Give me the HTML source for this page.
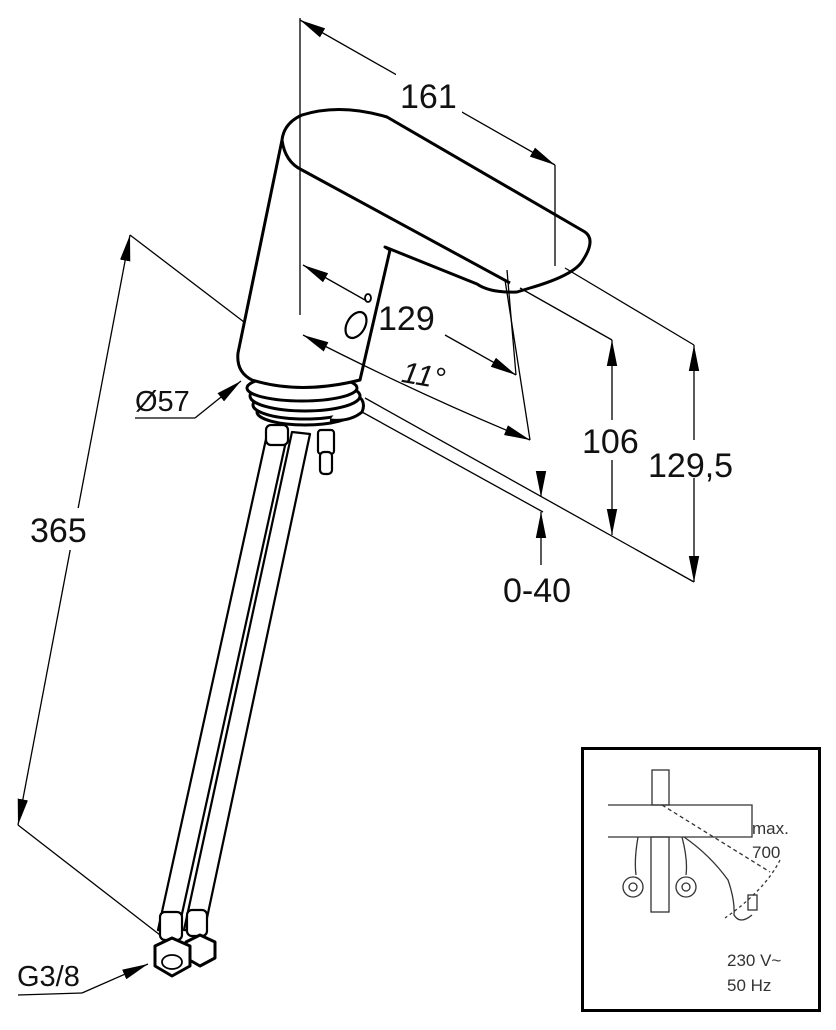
<!DOCTYPE html>
<html><head><meta charset="utf-8"><style>
html,body{margin:0;padding:0;background:#fff}
svg{display:block}
text{font-family:"Liberation Sans",sans-serif;fill:#111}
</style></head><body>
<svg width="836" height="1030" viewBox="0 0 836 1030" xmlns="http://www.w3.org/2000/svg">
<defs>
<marker id="b" viewBox="0 0 10 10" refX="10" refY="5" markerWidth="26" markerHeight="26" markerUnits="userSpaceOnUse" orient="auto-start-reverse"><path d="M0,3 L10,5 L0,7Z" fill="#000"/></marker>
</defs>
<g fill="#fff" stroke="#000" stroke-width="3" stroke-linejoin="round">
<ellipse cx="305" cy="412" rx="48" ry="13"/>
<ellipse cx="305" cy="405" rx="52" ry="14"/>
<path d="M350,392 Q368,398 362,412 Q350,422 330,420" />
<ellipse cx="305" cy="396" rx="55" ry="15"/>
<ellipse cx="302" cy="388" rx="55" ry="13"/>
<path d="M268,430 L158,930 L178,932 L288,432Z" stroke-width="2.2"/>
<path d="M292,432 L184,930 L204,932 L310,434Z" stroke-width="2.2"/>
<rect x="266" y="425" width="22" height="20" rx="5" stroke-width="2.2"/>
<rect x="318" y="430" width="16" height="24" rx="3" stroke-width="2.2"/>
<rect x="320" y="452" width="12" height="22" rx="4" stroke-width="2.2"/>
<rect x="160" y="912" width="22" height="28" rx="5" stroke-width="2.2"/>
<rect x="187" y="910" width="20" height="26" rx="5" stroke-width="2.2"/>
<polygon points="200,935 215,942 215,958 200,966 186,958 186,942"/>
<polygon points="172,938 190,946 190,966 172,976 155,966 155,946"/>
<ellipse cx="172" cy="962" rx="10" ry="7" stroke-width="1.8"/>
<path d="M282,140 L238,353 Q236,372 252,380 Q300,395 360,380 L390,250 L385,247 L477,284 Q490,293 517,292 L530,288 Q575,275 583,260 Q596,240 585,232 L387,117 Q340,103 302,115 Q284,123 282,140Z"/>
<path d="M282,140 Q285,162 302,170 L510,283" fill="none"/>
<ellipse cx="356" cy="325" rx="9" ry="14" transform="rotate(30 356 325)" stroke-width="2.2"/>
<ellipse cx="368" cy="298" rx="3" ry="4" stroke-width="1.8"/>
</g>
<g fill="none" stroke="#000" stroke-width="1.3">
<line x1="300" y1="18" x2="300" y2="315"/>
<line x1="300" y1="20" x2="555" y2="165" marker-start="url(#b)" marker-end="url(#b)"/>
<line x1="555" y1="165" x2="555" y2="266"/>
<line x1="303" y1="265" x2="365" y2="300" marker-start="url(#b)"/>
<line x1="445" y1="335" x2="516" y2="375" marker-end="url(#b)"/>
<line x1="507" y1="270" x2="516" y2="375"/>
<line x1="505" y1="280" x2="530" y2="440"/>
<path d="M303,335 Q420,395 530,440" marker-start="url(#b)" marker-end="url(#b)"/>
<line x1="520" y1="288" x2="612" y2="340"/>
<line x1="565" y1="268" x2="694" y2="345"/>
<line x1="612" y1="340" x2="612" y2="420" marker-start="url(#b)"/>
<line x1="612" y1="460" x2="612" y2="535" marker-end="url(#b)"/>
<line x1="694" y1="345" x2="694" y2="440" marker-start="url(#b)"/>
<line x1="694" y1="478" x2="694" y2="582" marker-end="url(#b)"/>
<line x1="365" y1="398" x2="694" y2="582"/>
<line x1="362" y1="412" x2="543" y2="512"/>
<line x1="541" y1="472" x2="541" y2="497" marker-end="url(#b)"/>
<line x1="541" y1="565" x2="541" y2="512" marker-end="url(#b)"/>
<line x1="130" y1="235" x2="18" y2="825" marker-start="url(#b)" marker-end="url(#b)"/>
<line x1="130" y1="235" x2="244" y2="322"/>
<line x1="18" y1="825" x2="160" y2="935"/>
<polyline points="135,418 195,418"/>
<line x1="195" y1="418" x2="241" y2="381" marker-end="url(#b)"/>
<polyline points="18,995 82,993"/>
<line x1="82" y1="993" x2="148" y2="964" marker-end="url(#b)"/>
</g>
<rect x="396" y="74" width="66" height="40" fill="#fff"/>
<rect x="26" y="508" width="64" height="42" fill="#fff"/>
<text x="400" y="108" font-size="34">161</text>
<text x="378" y="330" font-size="34">129</text>
<text x="402" y="385" font-size="30" font-style="italic" transform="rotate(10 420 375)">11°</text>
<text x="582" y="453" font-size="34">106</text>
<text x="648" y="477" font-size="34">129,5</text>
<text x="503" y="602" font-size="34">0-40</text>
<text x="30" y="542" font-size="34">365</text>
<text x="135" y="411" font-size="29">Ø57</text>
<text x="17" y="986" font-size="29">G3/8</text>
<rect x="582.5" y="748.5" width="237" height="262" fill="#fff" stroke="#000" stroke-width="3"/>
<g fill="none" stroke="#333" stroke-width="1.3">
<rect x="652" y="770" width="17" height="35"/>
<path d="M608,805 L752,805 L752,837 L608,837"/>
<rect x="651" y="837" width="18" height="75"/>
<path d="M638,837 Q634,860 636,875 M682,837 Q688,860 686,875"/>
<circle cx="633" cy="887" r="10"/><circle cx="633" cy="887" r="4"/>
<circle cx="686" cy="887" r="10"/><circle cx="686" cy="887" r="4"/>
<path d="M684,837 Q710,855 728,880 Q735,900 734,915 Q740,925 752,915"/>
<rect x="748" y="895" width="9" height="15"/>
<path d="M662,805 L770,872" stroke-dasharray="4,3"/>
<path d="M780,860 Q765,890 725,918" stroke-dasharray="3,3"/>
</g>
<text x="752" y="834" font-size="17" style="fill:#333">max.</text>
<text x="752" y="858" font-size="17" style="fill:#333">700</text>
<text x="727" y="966" font-size="17" style="fill:#333">230 V~</text>
<text x="727" y="991" font-size="17" style="fill:#333">50 Hz</text>
</svg>
</body></html>
